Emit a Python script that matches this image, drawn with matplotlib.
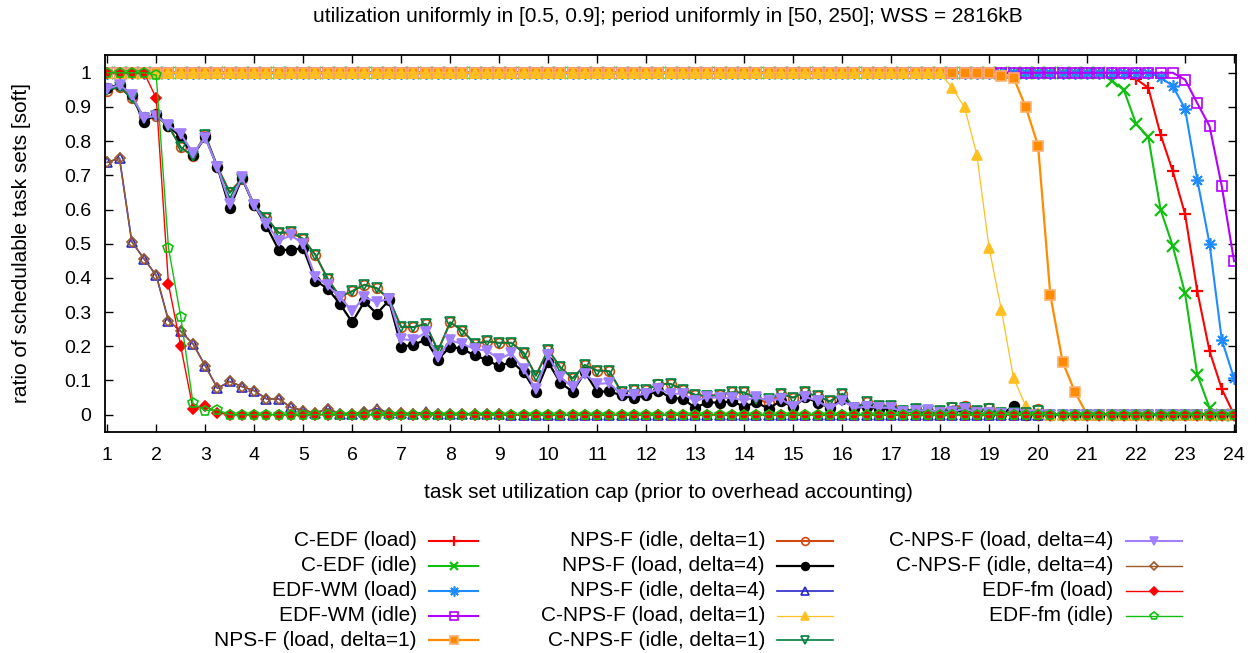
import numpy as np
import matplotlib
matplotlib.use("Agg")
import matplotlib.pyplot as plt
from matplotlib.lines import Line2D

plt.rcParams['font.family'] = ['Liberation Sans', 'DejaVu Sans']

W, H = 1258, 653

# task set utilization cap, 1 .. 24 in steps of 0.25
util_cap = np.arange(1.0, 24.001, 0.25)

c_edf_load = [1.0] * 84 + [0.982, 0.956, 0.819, 0.712, 0.587, 0.361, 0.186, 0.075, 0.0]
c_edf_idle = [1.0] * 82 + [0.977, 0.950, 0.851, 0.812, 0.600, 0.493, 0.355, 0.117, 0.020,
                           0.0, 0.0]
edf_wm_load = [1.0] * 86 + [0.987, 0.961, 0.895, 0.687, 0.500, 0.219, 0.106]
edf_wm_idle = [1.0] * 88 + [0.980, 0.911, 0.844, 0.668, 0.449]
npsf_load_d1 = [1.0] * 73 + [0.992, 0.986, 0.899, 0.787, 0.350, 0.155, 0.067] + [0.0] * 13

npsf_idle_d1 = [
    0.948, 0.958, 0.926, 0.870, 0.873, 0.844, 0.782, 0.756, 0.819, 0.724,
    0.651, 0.690, 0.612, 0.575, 0.532, 0.533, 0.514, 0.467, 0.397, 0.345,
    0.361, 0.380, 0.370, 0.339, 0.256, 0.256, 0.265, 0.187, 0.270, 0.246,
    0.207, 0.214, 0.210, 0.210, 0.181, 0.114, 0.190, 0.138, 0.106, 0.145,
    0.129, 0.127, 0.065, 0.072, 0.072, 0.090, 0.090, 0.072, 0.058, 0.054,
    0.058, 0.065, 0.065, 0.046, 0.034, 0.061, 0.050, 0.065, 0.053, 0.039,
    0.061, 0.020, 0.036, 0.026, 0.026, 0.010, 0.017, 0.010, 0.010, 0.023,
    0.026, 0.012, 0.019, 0.005, 0.008, 0.008, 0.015,
] + [0.0] * 16

npsf_load_d4 = [
    0.956, 0.965, 0.936, 0.855, 0.880, 0.844, 0.812, 0.758, 0.812, 0.724,
    0.604, 0.692, 0.612, 0.551, 0.482, 0.482, 0.487, 0.392, 0.368, 0.324,
    0.270, 0.331, 0.295, 0.334, 0.199, 0.204, 0.219, 0.161, 0.199, 0.192,
    0.173, 0.160, 0.141, 0.155, 0.124, 0.067, 0.153, 0.093, 0.067, 0.124,
    0.067, 0.068, 0.056, 0.049, 0.056, 0.070, 0.049, 0.046, 0.020, 0.036,
    0.035, 0.039, 0.023, 0.036, 0.017, 0.041, 0.021, 0.051, 0.035, 0.020,
    0.046, 0.020, 0.023, 0.017, 0.017, 0.012, 0.005, 0.006, 0.006, 0.012,
    0.008, 0.005, 0.003, 0.002, 0.024, 0.0,
] + [0.0] * 17

npsf_idle_d4 = [
    0.738, 0.750, 0.506, 0.456, 0.407, 0.275, 0.244, 0.207, 0.143, 0.077,
    0.097, 0.082, 0.070, 0.046, 0.046, 0.021, 0.012, 0.005, 0.017, 0.003,
    0.002, 0.008, 0.017, 0.005, 0.004, 0.002, 0.008, 0.002, 0.003, 0.002,
    0.001, 0.002, 0.001,
] + [0.0] * 60

cnpsf_load_d1 = [1.0] * 69 + [0.955, 0.899, 0.760, 0.488, 0.307, 0.107, 0.024, 0.005] + [0.0] * 16

cnpsf_idle_d1 = [
    0.950, 0.958, 0.926, 0.868, 0.873, 0.844, 0.782, 0.756, 0.817, 0.724,
    0.648, 0.690, 0.612, 0.575, 0.532, 0.533, 0.514, 0.467, 0.397, 0.345,
    0.361, 0.380, 0.370, 0.339, 0.256, 0.256, 0.265, 0.187, 0.270, 0.246,
    0.207, 0.214, 0.210, 0.210, 0.181, 0.114, 0.190, 0.138, 0.106, 0.145,
    0.129, 0.127, 0.065, 0.072, 0.072, 0.088, 0.090, 0.072, 0.058, 0.054,
    0.058, 0.065, 0.065, 0.046, 0.046, 0.061, 0.050, 0.065, 0.053, 0.039,
    0.061, 0.020, 0.036, 0.026, 0.026, 0.010, 0.017, 0.010, 0.010, 0.018,
    0.020, 0.012, 0.015, 0.005, 0.006, 0.006, 0.010,
] + [0.0] * 16

cnpsf_load_d4 = [
    0.953, 0.965, 0.936, 0.867, 0.875, 0.846, 0.821, 0.766, 0.809, 0.724,
    0.617, 0.694, 0.612, 0.558, 0.509, 0.524, 0.500, 0.402, 0.378, 0.343,
    0.304, 0.343, 0.329, 0.339, 0.221, 0.217, 0.241, 0.168, 0.217, 0.207,
    0.192, 0.187, 0.163, 0.179, 0.132, 0.075, 0.173, 0.109, 0.080, 0.119,
    0.090, 0.092, 0.058, 0.056, 0.061, 0.075, 0.061, 0.061, 0.039, 0.051,
    0.049, 0.049, 0.041, 0.051, 0.041, 0.046, 0.023, 0.051, 0.041, 0.017,
    0.041, 0.020, 0.023, 0.020, 0.020, 0.008, 0.010, 0.014, 0.006, 0.008,
    0.017, 0.006, 0.004, 0.002, 0.003, 0.0,
] + [0.0] * 17

cnpsf_idle_d4 = [
    0.738, 0.750, 0.506, 0.456, 0.407, 0.275, 0.244, 0.207, 0.143, 0.077,
    0.097, 0.082, 0.070, 0.046, 0.046, 0.021, 0.012, 0.005, 0.017, 0.003,
    0.002, 0.008, 0.014, 0.005, 0.004, 0.002, 0.006, 0.002, 0.003, 0.002,
    0.001, 0.002, 0.001,
] + [0.0] * 60

edf_fm_load = [1.0] * 4 + [0.926, 0.381, 0.200, 0.017, 0.026, 0.005] + [0.0] * 83
edf_fm_idle = [1.0] * 4 + [0.993, 0.487, 0.287, 0.033, 0.012, 0.014] + [0.0] * 83

labels = [
    'C-EDF (load)', 'C-EDF (idle)', 'EDF-WM (load)', 'EDF-WM (idle)',
    'NPS-F (load, delta=1)', 'NPS-F (idle, delta=1)', 'NPS-F (load, delta=4)',
    'NPS-F (idle, delta=4)', 'C-NPS-F (load, delta=1)', 'C-NPS-F (idle, delta=1)',
    'C-NPS-F (load, delta=4)', 'C-NPS-F (idle, delta=4)', 'EDF-fm (load)', 'EDF-fm (idle)',
]
values = [
    c_edf_load, c_edf_idle, edf_wm_load, edf_wm_idle,
    npsf_load_d1, npsf_idle_d1, npsf_load_d4, npsf_idle_d4,
    cnpsf_load_d1, cnpsf_idle_d1, cnpsf_load_d4, cnpsf_idle_d4,
    edf_fm_load, edf_fm_idle,
]

# line colour, marker, filled?, line width, marker size
styles = [
    ('#ff0000', '+', True, 1.5, 9),
    ('#10c010', 'x', True, 1.5, 8),
    ('#1e8cff', (8, 2, 0), True, 1.5, 9),
    ('#b400ff', 's', False, 1.5, 7),
    ('#ff8c00', 's', True, 1.6, 7),
    ('#d04a10', 'o', False, 1.5, 7),
    ('#000000', 'o', True, 1.6, 7),
    ('#2828c8', '^', False, 1.2, 6.5),
    ('#ffbf20', '^', True, 0.9, 6.5),
    ('#008040', 'v', False, 1.2, 6.5),
    ('#a080ff', 'v', True, 1.5, 7.5),
    ('#9a5a2a', 'D', False, 1.0, 5),
    ('#ff0000', 'D', True, 1.0, 5.5),
    ('#10c010', 'p', False, 1.0, 7),
]


def marker_kw(color, marker, filled, ms):
    kw = dict(marker=marker, markersize=ms, markeredgecolor=color,
              markerfacecolor=color if filled else 'none', markeredgewidth=1.2)
    if marker in ('+', 'x'):
        kw['markeredgewidth'] = 1.6
    if isinstance(marker, tuple):
        kw['markeredgewidth'] = 1.2
    if color == '#ff8c00':
        kw['markeredgecolor'] = '#ffb070'
    return kw


fig = plt.figure(figsize=(W / 100, H / 100), dpi=100)
left, right, top, bottom = 105.3, 1235.5, 55.0, 431.7
ax = fig.add_axes([left / W, 1 - bottom / H, (right - left) / W, (bottom - top) / H])

for vals, (color, marker, filled, lw, ms) in zip(values, styles):
    ax.plot(util_cap, vals, color=color, linewidth=lw, **marker_kw(color, marker, filled, ms))

ax.set_xlim(0.96, 24.03)
ax.set_ylim(-0.05, 1.052)
ax.set_xticks(range(1, 25))
yt = np.round(np.arange(0, 1.01, 0.1), 1)
ax.set_yticks(yt)
ax.set_yticklabels(['0'] + ['%.1f' % v for v in yt[1:-1]] + ['1'])
ax.tick_params(direction='in', length=6, width=1.0, top=True, right=True,
               labelsize=14, colors='black')
ax.tick_params(axis='x', pad=11)
ax.tick_params(axis='y', pad=10)
for sp in ax.spines.values():
    sp.set_linewidth(1.3)


def fx(x):
    return x / W


def fy(y):
    return 1 - y / H


fig.text(fx(668), fy(17), 'utilization uniformly in [0.5, 0.9]; period uniformly in [50, 250]; WSS = 2816kB',
         ha='center', va='center', fontsize=15)
fig.text(fx(668), fy(492), 'task set utilization cap (prior to overhead accounting)',
         ha='center', va='center', fontsize=15)
fig.text(fx(22), fy(243), 'ratio of schedulable task sets [soft]',
         ha='center', va='center', rotation=90, fontsize=15)

# key, three columns, text right aligned before the sample
text_right = [417, 765, 1113]
sample_x = [(429, 478), (777, 833), (1126, 1182)]
rows = [540.7, 565.7, 590.7, 615.7, 640.0]
for i, (label, (color, marker, filled, lw, ms)) in enumerate(zip(labels, styles)):
    col, row = divmod(i, 5)
    y = fy(rows[row])
    x0, x1 = sample_x[col]
    fig.text(fx(text_right[col]), y, label, ha='right', va='center', fontsize=15)
    fig.add_artist(Line2D([fx(x0), fx(x1)], [y, y], color=color, linewidth=lw,
                          transform=fig.transFigure))
    fig.add_artist(Line2D([fx((x0 + x1) / 2)], [y], linestyle='none', transform=fig.transFigure,
                          **marker_kw(color, marker, filled, ms * 0.8)))

fig.savefig('out.png', dpi=100)
